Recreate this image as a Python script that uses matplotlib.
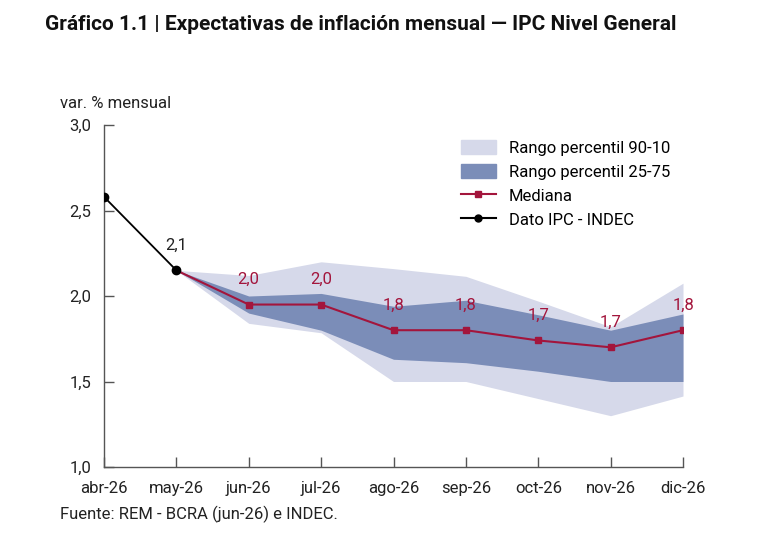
import matplotlib.pyplot as plt
from matplotlib.patches import Patch
from matplotlib.lines import Line2D

# data
months = ["abr-26", "may-26", "jun-26", "jul-26", "ago-26",
          "sep-26", "oct-26", "nov-26", "dic-26"]

ipc_x = [0, 1]
ipc_vals = [2.58, 2.15]
ipc_labels = ["", "2,1"]

fc_x = [1, 2, 3, 4, 5, 6, 7, 8]
mediana = [2.15, 1.95, 1.95, 1.80, 1.80, 1.74, 1.70, 1.80]
med_labels = ["", "2,0", "2,0", "1,8", "1,8", "1,7", "1,7", "1,8"]
p25 = [2.15, 1.90, 1.80, 1.63, 1.61, 1.56, 1.50, 1.50]
p75 = [2.15, 2.00, 2.015, 1.94, 1.975, 1.89, 1.80, 1.895]
p10 = [2.15, 1.84, 1.785, 1.50, 1.50, 1.40, 1.30, 1.415]
p90 = [2.15, 2.12, 2.20, 2.16, 2.115, 1.97, 1.82, 2.075]

light = "#d6d9ea"
dark = "#7b8db8"
red = "#a3153c"
axis_col = "#555555"

plt.rcParams['font.family'] = ['Roboto', 'DejaVu Sans']

fig = plt.figure(figsize=(7.67, 5.48), dpi=100)
ax = fig.add_axes([104/767, 1-467/548, (683-104)/767, (467-125)/548])

ax.fill_between(fc_x, p10, p90, color=light, linewidth=0)
ax.fill_between(fc_x, p25, p75, color=dark, linewidth=0)
ax.plot(fc_x[1:], mediana[1:], color=red, lw=1.5, marker="s", ms=5)
ax.plot([1, 2], mediana[:2], color=red, lw=1.5)
ax.plot(ipc_x, ipc_vals, color="black", lw=1.3, marker="o", ms=6, zorder=5)

for x, v, t in zip(ipc_x, ipc_vals, ipc_labels):
    if t:
        ax.annotate(t, (x, v), xytext=(0, 18), textcoords="offset points",
                    ha="center", va="center", fontsize=12, color="#222222")
for x, v, t in zip(fc_x, mediana, med_labels):
    if t:
        ax.annotate(t, (x, v), xytext=(0, 18), textcoords="offset points",
                    ha="center", va="center", fontsize=12, color=red)

ax.set_xlim(0, 8)
ax.set_ylim(1.0, 3.0)
ax.set_xticks(range(len(months)))
ax.set_xticklabels(months)
ax.set_yticks([1.0, 1.5, 2.0, 2.5, 3.0])
ax.set_yticklabels(["1,0", "1,5", "2,0", "2,5", "3,0"])
ax.tick_params(direction="in", length=7, width=1, color=axis_col,
               labelsize=12, labelcolor="#222222")
ax.tick_params(axis="x", pad=10)
ax.tick_params(axis="y", pad=9)
for s in ["top", "right"]:
    ax.spines[s].set_visible(False)
for s in ["left", "bottom"]:
    ax.spines[s].set_color(axis_col)
    ax.spines[s].set_linewidth(1)

handles = [
    Patch(color=light, label="Rango percentil 90-10"),
    Patch(color=dark, label="Rango percentil 25-75"),
    Line2D([], [], color=red, lw=1.5, marker="s", ms=4, label="Mediana"),
    Line2D([], [], color="black", lw=1.5, marker="o", ms=5, label="Dato IPC - INDEC"),
]
ax.legend(handles=handles, loc="upper left", bbox_to_anchor=(0.59, 1.0),
          frameon=False, fontsize=12, handlelength=2.1, handleheight=0.9,
          labelspacing=0.5, handletextpad=0.8)

fig.text(45/767, 1-24/548, "Gráfico 1.1 | Expectativas de inflación mensual — IPC Nivel General",
         fontsize=15, fontweight="bold", va="center", ha="left", color="#111111")
fig.text(60/767, 1-103/548, "var. % mensual", fontsize=12, va="center", color="#222222")
fig.text(60/767, 1-514/548, "Fuente: REM - BCRA (jun-26) e INDEC.", fontsize=12,
         va="center", color="#222222")

fig.savefig("out.png", dpi=100)
